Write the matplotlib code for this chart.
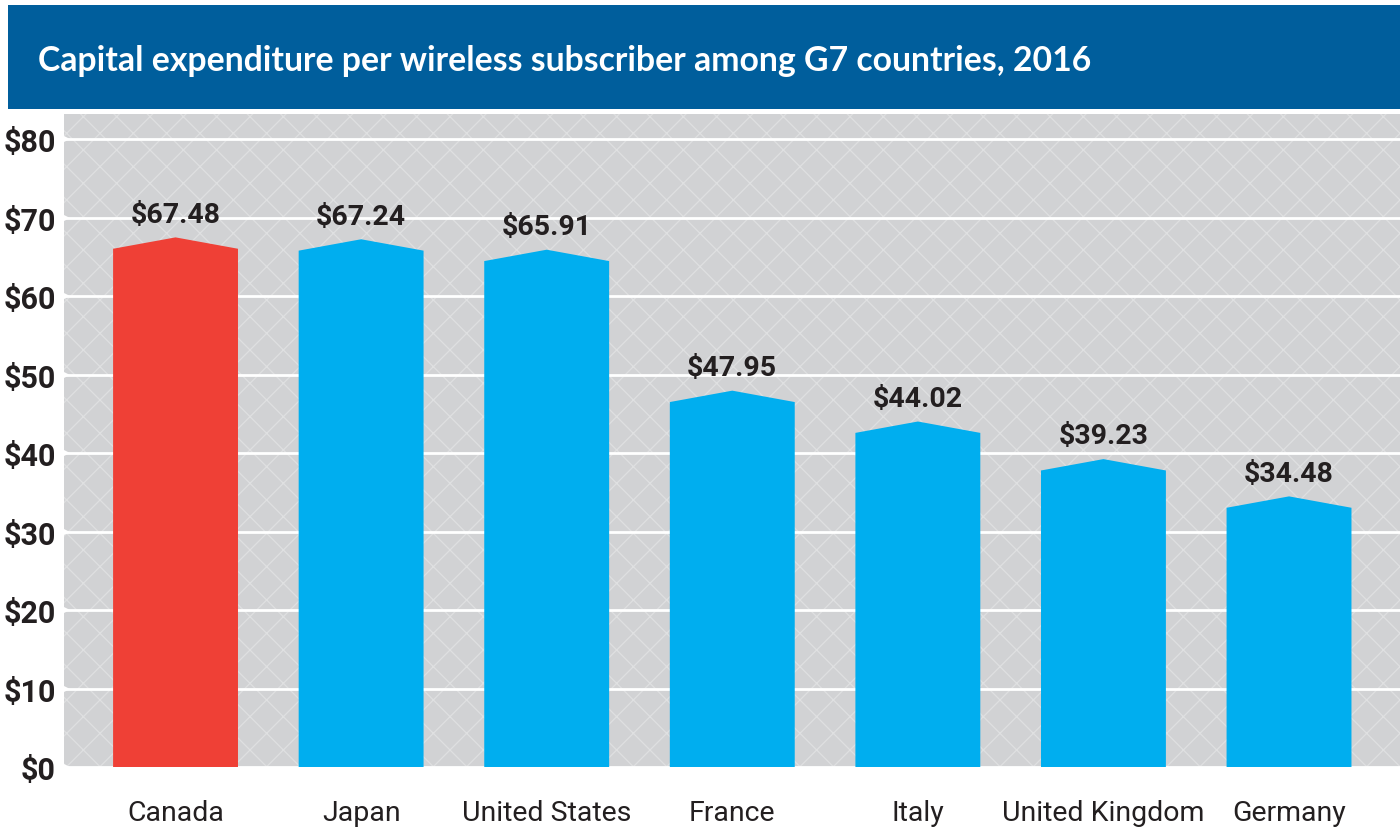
import matplotlib
matplotlib.use("Agg")
import matplotlib.pyplot as plt
from matplotlib.patches import Rectangle

countries = ["Canada", "Japan", "United States", "France", "Italy", "United Kingdom", "Germany"]
values = [67.48, 67.24, 65.91, 47.95, 44.02, 39.23, 34.48]
labels = ["$67.48", "$67.24", "$65.91", "$47.95", "$44.02", "$39.23", "$34.48"]
yticks = [0, 10, 20, 30, 40, 50, 60, 70, 80]
ytick_labels = ["$0", "$10", "$20", "$30", "$40", "$50", "$60", "$70", "$80"]
title = "Capital expenditure per wireless subscriber among G7 countries, 2016"

RED = "#EF4036"
BLUE = "#00AEEF"
GRAY = "#D1D2D4"
NAVY = "#005E9C"
TXT = "#231F20"

plt.rcParams["hatch.linewidth"] = 0.9
plt.rcParams["hatch.color"] = "#DFE0E1"

W, H = 1400, 829
fig = plt.figure(figsize=(W / 100, H / 100), dpi=100)
fig.patch.set_facecolor("white")

# title banner
fig.patches.append(Rectangle((8 / W, (H - 110) / H), 1 - 8 / W, 104 / H,
                             transform=fig.transFigure, facecolor=NAVY,
                             edgecolor="none", zorder=0))
fig.text(38 / W, (H - 61) / H, title, color="white", fontsize=24.3,
         family="Lato", fontweight="bold", va="center", ha="left")

ax = fig.add_axes([64 / W, 61 / H, 1 - 64 / W, (768 - 115) / H])
ax.set_xlim(-0.601, 6.598)
ax.set_ylim(0, 83.2)
ax.set_facecolor(GRAY)
ax.add_patch(Rectangle((0, 0), 1, 1, transform=ax.transAxes, facecolor=GRAY,
                       edgecolor="#DFE0E1", hatch="x", linewidth=0, zorder=0))
for s in ax.spines.values():
    s.set_visible(False)

for t in yticks:
    ax.axhline(t, color="white", linewidth=2.0, zorder=1)
    ax.plot([-0.601], [t], marker=">", color="white", markersize=9,
            clip_on=False, zorder=2, markeredgewidth=0)

bw = 0.673
d = 1.45
for i, (v, lab) in enumerate(zip(values, labels)):
    xs = [i - bw / 2, i - bw / 2, i, i + bw / 2, i + bw / 2]
    ys = [0, v - d, v, v - d, 0]
    ax.fill(xs, ys, color=RED if i == 0 else BLUE, zorder=3, linewidth=0)
    ax.text(i, v + 2.0, lab, ha="center", va="baseline", fontsize=20.5,
            fontweight="bold", family="Roboto", color=TXT, zorder=4)

ax.set_yticks(yticks)
ax.set_yticklabels(ytick_labels, fontsize=22, fontweight="bold",
                   family="Roboto", color=TXT)
ax.set_xticks(range(len(countries)))
ax.set_xticklabels(countries, fontsize=20.5, family="Roboto", color=TXT)
ax.tick_params(axis="y", length=0, pad=6)
ax.tick_params(axis="x", length=0, pad=23)

fig.savefig("out.png", dpi=100)
